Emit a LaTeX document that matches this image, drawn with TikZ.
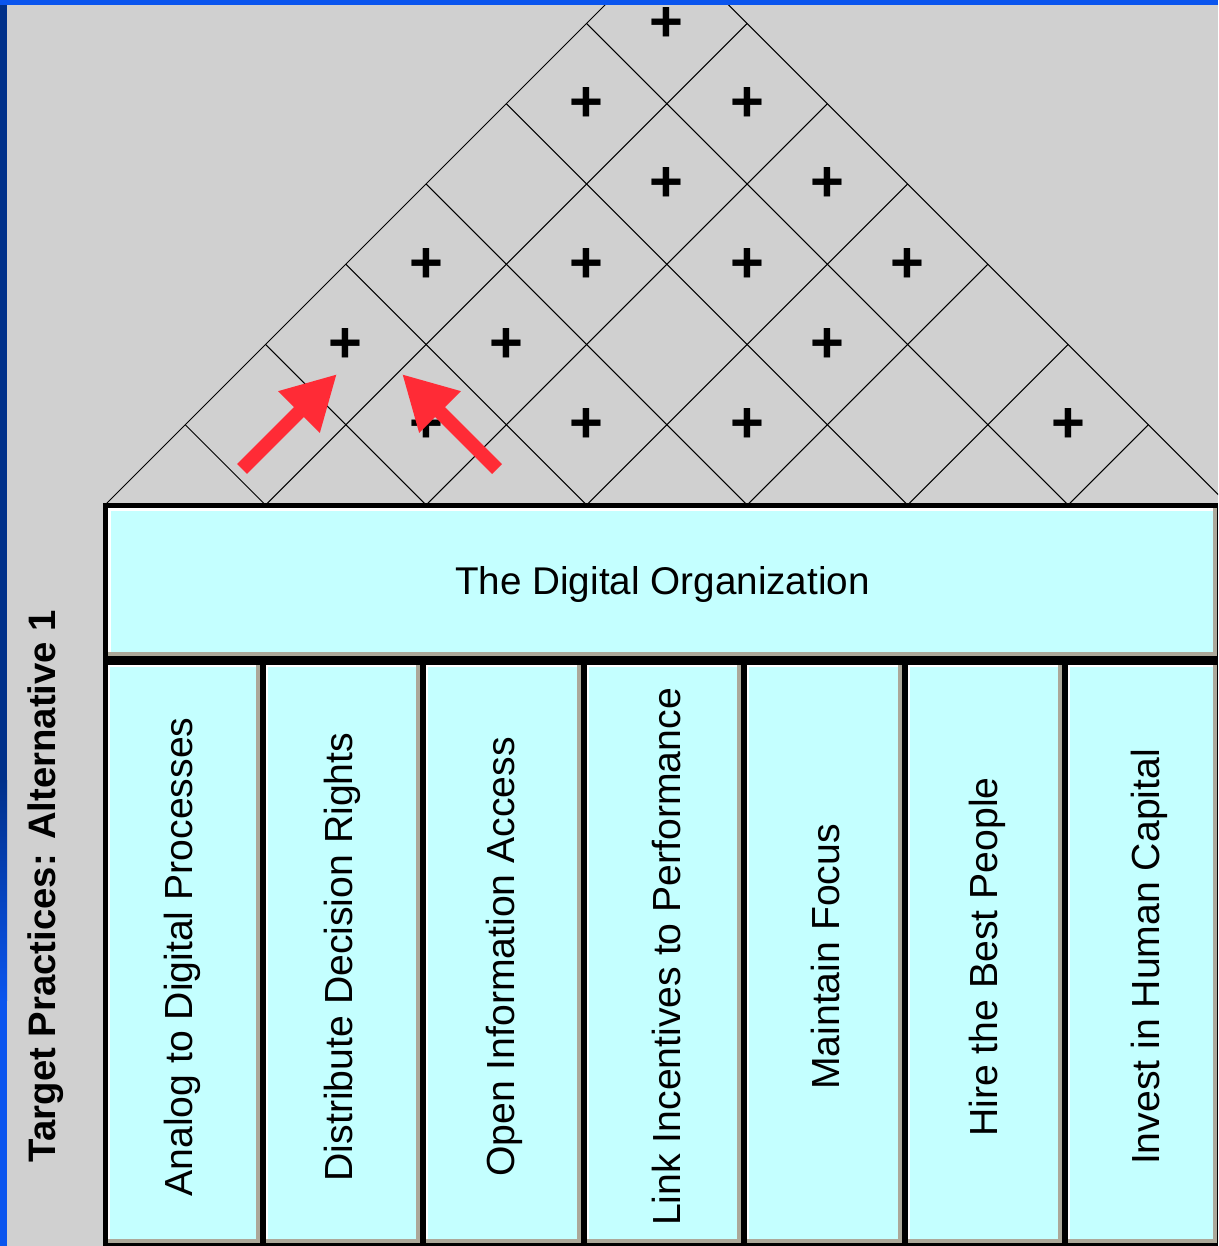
\documentclass[tikz,border=0pt]{standalone}
\usepackage{fontspec}
\setmainfont{Liberation Sans}
\usetikzlibrary{arrows.meta}
\definecolor{bg}{HTML}{D0D0D0}
\definecolor{topblue}{HTML}{0A55EE}
\definecolor{navy}{HTML}{00308A}
\definecolor{boxcyan}{HTML}{C4FFFF}
\definecolor{shadowgray}{HTML}{ACA899}
\definecolor{arrowred}{HTML}{FF2B36}
\begin{document}
\begin{tikzpicture}[x=0.02cm,y=-0.02cm,
  roofline/.style={black, line width=0.6pt},
  coltext/.style={rotate=90, font=\fontsize{22.3}{26}\selectfont, inner sep=0pt, text=black},
  orgtext/.style={font=\fontsize{22}{26}\selectfont, inner sep=0pt},
  sidetext/.style={rotate=90, font=\bfseries\fontsize{21.8}{26}\selectfont, inner sep=0pt},
  plusmark/.style={font=\bfseries\fontsize{33}{38}\selectfont, inner sep=0pt},
  redarrow/.style={draw=arrowred, line width=7.94pt, line cap=butt, -{Triangle[length=30.6pt,width=31.2pt]}}
]
\useasboundingbox (0,0) rectangle (1218,1246);
\clip (0,0) rectangle (1218,1246);
\fill[bg] (0,0) rectangle (1218,1246);
% roof grid
\foreach \k in {0,...,7}{
  \pgfmathsetmacro{\bx}{105+160.5*\k}
  \pgfmathsetmacro{\tr}{(1228.5-\bx)/2}
  \pgfmathsetmacro{\tl}{(\bx-105)/2}
  \draw[roofline] (\bx-\tl,505-\tl) -- (\bx,505) -- (\bx+\tr,505-\tr);
}
% correlation marks
\foreach \px/\py [count=\i] in {426/424.75, 586.5/424.75, 747/424.75, 1068/424.75,
  345.75/344.5, 506.25/344.5, 827.25/344.5,
  426/264.25, 586.5/264.25, 747/264.25, 907.5/264.25,
  666.75/184, 827.25/184, 586.5/103.75, 747/103.75, 666.75/23.5}
  \node[plusmark] (p\i) at (\px,\py+0.8) {+};
% base frame
\fill[black] (103,503) rectangle (1218,1246);
% top box
\fill[shadowgray] (108,508) rectangle (1217,656);
\fill[white] (108,508) rectangle (1213,652);
\fill[boxcyan] (110.5,510.5) rectangle (1213,652);
\node[orgtext] (org) at (662.5,585) {The Digital Organization};
% columns
\foreach \L/\R/\tx/\nm/\lab in {
  108/259.5/182/c1/Analog to Digital Processes,
  265.5/420/342/c2/Distribute Decision Rights,
  426/580.5/504/c3/Open Information Access,
  586.5/741/666/c4/Link Incentives to Performance,
  747/901.5/825/c5/Maintain Focus,
  907.5/1062/987/c6/Hire the Best People,
  1068/1217/1149/c7/Invest in Human Capital}{
  \fill[shadowgray] (\L,665) rectangle (\R,1243);
  \fill[white] (\L,665) rectangle (\R-4,1239);
  \fill[boxcyan] (\L+2,667) rectangle (\R-4,1239);
  \node[coltext] (\nm) at (\tx,957) {\lab};
}
\node[sidetext] (side) at (46,886) {Target Practices: Alternative 1};
% red arrows
\coordinate (a1s) at (242,469); \coordinate (a1e) at (337,374);
\coordinate (a2s) at (497,469); \coordinate (a2e) at (402,374);
\draw[redarrow] (a1s) -- (a1e);
\draw[redarrow] (a2s) -- (a2e);
% blue frame
\fill[topblue] (0,0) rectangle (1218,5);
\fill[navy] (0,5) rectangle (7,780);
\shade[top color=navy, bottom color=topblue] (0,780) rectangle (7,1000);
\fill[topblue] (0,1000) rectangle (7,1246);
\end{tikzpicture}
\end{document}
